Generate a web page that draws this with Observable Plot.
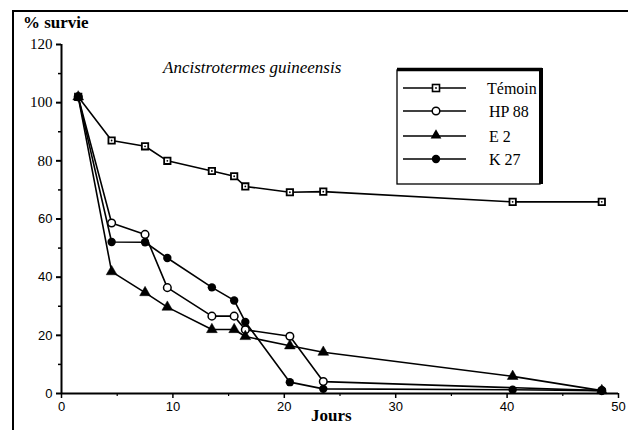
<!DOCTYPE html>
<html>
<head>
<meta charset="utf-8">
<script src="https://cdn.jsdelivr.net/npm/d3@7"></script>
<script src="https://cdn.jsdelivr.net/npm/@observablehq/plot@0.6"></script>
<style>
  html, body { margin: 0; padding: 0; background: #fff; }
  #wrap { position: relative; width: 628px; height: 430px; overflow: hidden; }
  #wrap svg { display: block; }
  .ov { position: absolute; white-space: nowrap; color: #000; font-family: 'Liberation Serif', serif; }
  .frameTop { position: absolute; left: 13px; top: 10px; width: 615px; height: 2px; background: #000; }
  .frameLeft { position: absolute; left: 12px; top: 10px; width: 2px; height: 420px; background: #000; }
</style>
</head>
<body>
<div id="wrap">
  <div class="frameTop"></div>
  <div class="frameLeft"></div>
</div>
<script>
// ---- data ----
const days = [1.5, 4.5, 7.5, 9.5, 13.5, 15.5, 16.5, 20.5, 23.5, 40.5, 48.5];
const temoin = [102, 87, 85, 80, 76.5, 74.7, 71.2, 69.2, 69.4, 65.9, 65.9];
const hp88Days = [1.5, 4.5, 7.5, 9.5, 13.5, 15.5, 16.5, 20.5, 23.5, 48.5];
const hp88 = [102, 58.6, 54.7, 36.4, 26.6, 26.6, 21.9, 19.7, 4.1, 1];
const e2 = [102, 41.9, 34.7, 29.7, 22, 22, 19.6, 16.4, 14.2, 5.9, 1];
const k27 = [102, 52.1, 52, 46.6, 36.5, 32, 24.6, 3.9, 1.6, 1.3, 1];
const seriesNames = ["Témoin", "HP 88", "E 2", "K 27"];
const xTicks = [0, 10, 20, 30, 40, 50];
const xMinor = [5, 15, 25, 35, 45];
const yTicksSans = [0, 20, 40, 60];
const yTicksSerif = [80, 100, 120];
const yMinor = [10, 30, 50, 70, 90, 110];
const title = "Ancistrotermes guineensis";
const yLabel = "% survie";
const xLabel = "Jours";

const rows = [];
days.forEach((d, i) => rows.push({s: "Témoin", x: d, y: temoin[i]}));
hp88Days.forEach((d, i) => rows.push({s: "HP 88", x: d, y: hp88[i]}));
days.forEach((d, i) => rows.push({s: "E 2", x: d, y: e2[i]}));
days.forEach((d, i) => rows.push({s: "K 27", x: d, y: k27[i]}));
const by = s => rows.filter(r => r.s === s);

const sans = "'Liberation Sans', sans-serif";
const serif = "'Liberation Serif', serif";

const chart = Plot.plot({
  width: 628,
  height: 430,
  marginLeft: 61,
  marginRight: 10,
  marginTop: 44,
  marginBottom: 37,
  x: {domain: [0, 50], axis: null},
  y: {domain: [0, 120], axis: null},
  style: {background: "transparent", color: "#000", overflow: "visible"},
  marks: [
    Plot.ruleX([0], {y1: 0, y2: 120, stroke: "#000", strokeWidth: 2}),
    Plot.ruleY([0], {x1: 0, x2: 50, stroke: "#000", strokeWidth: 2}),
    Plot.axisY({ticks: yTicksSans, label: null, tickSize: 5, tickPadding: 4, strokeWidth: 2, fontSize: 13, fontFamily: sans, anchor: "left"}),
    Plot.axisY({ticks: yTicksSerif, label: null, tickSize: 5, tickPadding: 4, strokeWidth: 2, fontSize: 15, fontFamily: serif, anchor: "left"}),
    Plot.axisY({ticks: yMinor, label: null, tickSize: 3, text: null, strokeWidth: 1.5, anchor: "left"}),
    Plot.axisX({ticks: xTicks, label: null, tickSize: 5, tickPadding: 3, strokeWidth: 1.5, fontSize: 13, fontFamily: sans, anchor: "bottom", style: {letterSpacing: "2px"}}),
    Plot.axisX({ticks: xMinor, label: null, tickSize: 3, text: null, strokeWidth: 1.2, anchor: "bottom"}),
    Plot.line(by("Témoin"), {x: "x", y: "y", stroke: "#000", strokeWidth: 1.6}),
    Plot.line(by("HP 88"), {x: "x", y: "y", stroke: "#000", strokeWidth: 1.6}),
    Plot.line(by("E 2"), {x: "x", y: "y", stroke: "#000", strokeWidth: 1.6}),
    Plot.line(by("K 27"), {x: "x", y: "y", stroke: "#000", strokeWidth: 1.6}),
    Plot.dot(by("Témoin"), {x: "x", y: "y", symbol: "square", r: 3.6, fill: "#fff", stroke: "#000", strokeWidth: 1.8}),
    Plot.dot(by("Témoin"), {x: "x", y: "y", r: 0.9, fill: "#000"}),
    Plot.dot(by("HP 88"), {x: "x", y: "y", symbol: "circle", r: 3.8, fill: "#fff", stroke: "#000", strokeWidth: 1.5}),
    Plot.dot(by("E 2"), {x: "x", y: "y", symbol: "triangle", r: 4, fill: "#000", stroke: "#000", strokeWidth: 0.5}),
    Plot.dot(by("K 27"), {x: "x", y: "y", symbol: "circle", r: 4.2, fill: "#000"})
  ]
});
const wrap = document.getElementById("wrap");
wrap.insertBefore(chart, wrap.firstChild);

function addText(txt, left, top, css) {
  const d = document.createElement("div");
  d.className = "ov";
  d.textContent = txt;
  d.style.left = left + "px";
  d.style.top = top + "px";
  Object.assign(d.style, css);
  wrap.appendChild(d);
}
addText(yLabel, 23, 13, {fontWeight: "bold", fontSize: "17px"});
addText(title, 163, 58, {fontStyle: "italic", fontSize: "17px"});
addText(xLabel, 311, 406, {fontWeight: "bold", fontSize: "17px"});

// legend
const lg = d3.create("svg").attr("width", 152).attr("height", 125)
  .style("position", "absolute").style("left", "394px").style("top", "66px");
const bx = 3, by0 = 4, bw = 143, bh = 114;
lg.append("rect").attr("x", bx).attr("y", by0).attr("width", bw).attr("height", bh)
  .attr("fill", "#fff").attr("stroke", "#000").attr("stroke-width", 1.3);
lg.append("line").attr("x1", bx).attr("x2", bx + bw + 2).attr("y1", by0 - 0.5).attr("y2", by0 - 0.5).attr("stroke", "#000").attr("stroke-width", 3.5);
lg.append("line").attr("x1", bx + bw + 1).attr("x2", bx + bw + 1).attr("y1", by0 - 2).attr("y2", by0 + bh).attr("stroke", "#000").attr("stroke-width", 4);
const rowY = [22, 45, 70, 93];
seriesNames.forEach((name, i) => {
  const y = rowY[i];
  const g = lg.append("g");
  g.append("line").attr("x1", 9).attr("x2", 72).attr("y1", y).attr("y2", y).attr("stroke", "#000").attr("stroke-width", 1.6);
  const cx = 42;
  if (i === 0) {
    g.append("rect").attr("x", cx - 3.5).attr("y", y - 3.5).attr("width", 7).attr("height", 7).attr("fill", "#fff").attr("stroke", "#000").attr("stroke-width", 1.6);
    g.append("circle").attr("cx", cx).attr("cy", y).attr("r", 0.9).attr("fill", "#000");
  } else if (i === 1) {
    g.append("circle").attr("cx", cx).attr("cy", y).attr("r", 3.8).attr("fill", "#fff").attr("stroke", "#000").attr("stroke-width", 1.5);
  } else if (i === 2) {
    g.append("path").attr("d", d3.symbol(d3.symbolTriangle, 50)()).attr("transform", `translate(${cx},${y - 0.5})`).attr("fill", "#000");
  } else {
    g.append("circle").attr("cx", cx).attr("cy", y).attr("r", 4.2).attr("fill", "#000");
  }
  g.append("text").attr("x", i === 0 ? 93 : 95).attr("y", y + 5.5)
    .style("font-family", serif).style("font-size", "16px").attr("fill", "#000").text(name);
});
wrap.appendChild(lg.node());
</script>
</body>
</html>
